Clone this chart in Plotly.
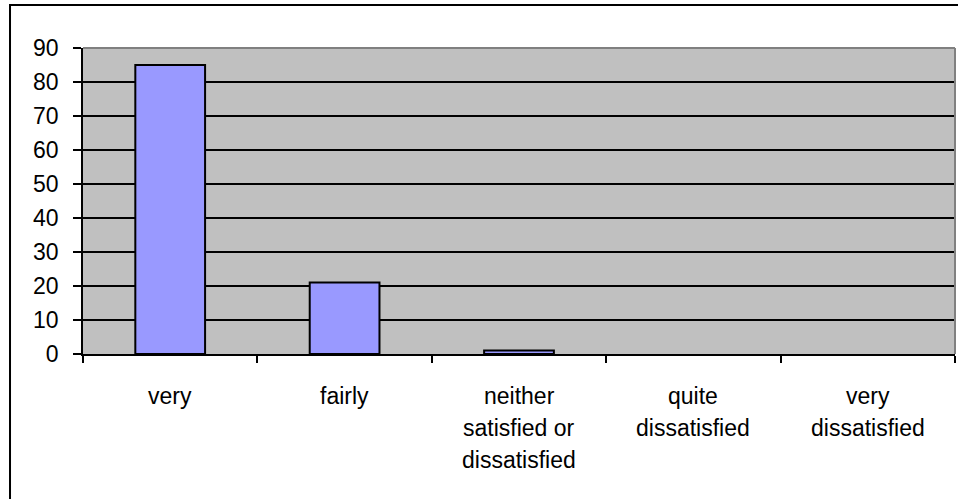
import plotly.graph_objects as go

categories = ["very", "fairly", "neither satisfied or dissatisfied", "quite dissatisfied", "very dissatisfied"]
label_lines = [["very"], ["fairly"], ["neither", "satisfied or", "dissatisfied"], ["quite", "dissatisfied"], ["very", "dissatisfied"]]
values = [85, 21, 1, 0, 0]
y_ticks = [0, 10, 20, 30, 40, 50, 60, 70, 80, 90]

FONT = "Liberation Sans, Arial, sans-serif"
FS = 23

fig = go.Figure()
fig.add_trace(go.Bar(
    x=categories, y=values,
    marker=dict(color="#9999FF",
                line=dict(color="black", width=[2 if v > 0 else 0 for v in values])),
    width=0.4,
))

annotations = []
for cat, lines in zip(categories, label_lines):
    for i, ln in enumerate(lines):
        annotations.append(dict(
            x=cat, y=0, xref="x", yref="paper", text=ln, showarrow=False,
            yanchor="middle", xanchor="center", yshift=-42 - 32 * i,
            font=dict(family=FONT, size=FS, color="black"),
        ))

shapes = [
    dict(type="line", xref="paper", yref="paper", x0=0, x1=1, y0=1, y1=1,
         line=dict(color="#808080", width=2), layer="above"),
    dict(type="line", xref="paper", yref="paper", x0=1, x1=1, y0=0, y1=1,
         line=dict(color="#808080", width=2), layer="above"),
    dict(type="rect", xref="paper", yref="paper", x0=-0.0837, x1=1.02, y0=-0.5, y1=1.1405,
         line=dict(color="black", width=2), layer="above"),
]

fig.update_layout(
    width=958, height=499,
    margin=dict(l=83, r=3, t=48, b=145),
    paper_bgcolor="white", plot_bgcolor="#C0C0C0",
    showlegend=False,
    font=dict(family=FONT, size=FS, color="black"),
    annotations=annotations, shapes=shapes,
    xaxis=dict(
        type="category", showticklabels=False, ticks="outside", tickson="boundaries",
        ticklen=7, tickcolor="black", tickwidth=1.5, showline=True, linecolor="black",
        linewidth=1.5, showgrid=False, range=[-0.5, 4.5],
    ),
    yaxis=dict(
        range=[0, 90], tickvals=y_ticks, ticks="outside", ticklen=8, tickcolor="black",
        tickwidth=1.5, showline=True, linecolor="black", linewidth=1.5,
        showgrid=True, gridcolor="black", gridwidth=1.5, zeroline=False,
        ticklabelstandoff=10, tickfont=dict(family=FONT, size=FS, color="black"),
    ),
)

fig.write_html("out.html", config={"displayModeBar": False},
               post_script="document.body.style.margin='0';")
